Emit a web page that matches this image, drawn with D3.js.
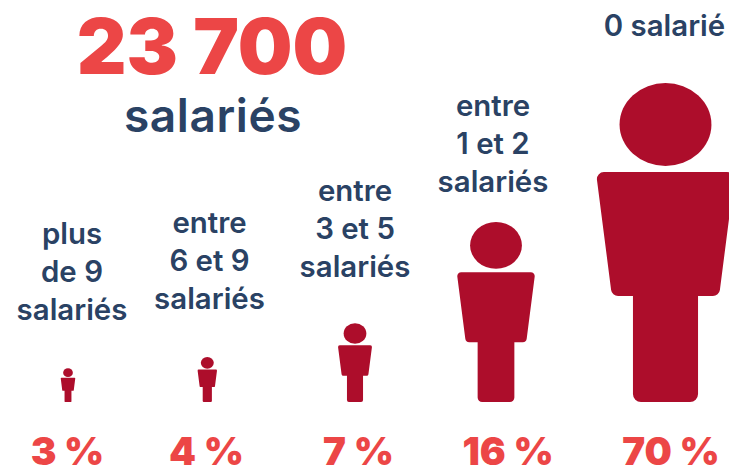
<!DOCTYPE html>
<html><head><meta charset="utf-8">
<script src="https://cdn.jsdelivr.net/npm/d3@7/dist/d3.min.js"></script>
<style>html,body{margin:0;padding:0;background:#fff}svg{display:block}text{font-family:Inter,"Noto Sans",sans-serif;text-anchor:middle}</style>
</head><body><svg id="c" width="729" height="466"></svg>
<script>
const categories = ["plus de 9 salariés","entre 6 et 9 salariés","entre 3 et 5 salariés","entre 1 et 2 salariés","0 salarié"];
const labelLines = [["plus","de 9","salariés"],["entre","6 et 9","salariés"],["entre","3 et 5","salariés"],["entre","1 et 2","salariés"],["0 salarié"]];
const shares = [3,4,7,16,70];
const shareLabels = ["3 %","4 %","7 %","16 %","70 %"];
const totalValue = "23 700";
const totalUnit = "salariés";

const navy="#2a4264", red="#ec4646", crimson="#ad0d2b";
const svg=d3.select("#c");
const cx=d3.scaleLinear().domain([0,1,2,3,4]).range([68,207.3,355,496,665.5]);
const textCx=d3.scaleLinear().domain([0,1,2,3,4]).range([72,209.5,355,493,664.5]);
const pctCx=d3.scaleLinear().domain([0,1,2,3,4]).range([67.5,206.5,358.5,508,671]);
// the biggest figure is not drawn to the same scale in the source
const hScale=d3.scaleLinear().domain([0,16,70]).range([0,180,319]);
const baseY=402;

function figure(k){
  // outline in a unit figure of height 1, centred on x = 0
  const p=d3.path();
  const pts=[[-.218,.279],[.218,.279],[.168,.668],[.102,.668],[.102,1],[-.102,1],[-.102,.668],[-.168,.668]];
  const r=[.022,.022,.022,0,.025,.025,0,.022];
  const n=pts.length;
  p.moveTo(0,pts[0][1]*k);
  for(let i=1;i<=n;i++){
    const a=pts[i%n], b=pts[(i+1)%n];
    p.arcTo(a[0]*k,a[1]*k,b[0]*k,b[1]*k,r[i%n]*k);
  }
  p.closePath();
  return p.toString();
}

const g=svg.selectAll("g.fig").data(shares).join("g").attr("class","fig")
  .attr("transform",(d,i)=>`translate(${cx(i)},${baseY-hScale(d)})`);
g.append("ellipse").attr("fill",crimson)
  .attr("cx",0).attr("rx",d=>hScale(d)*.144).attr("ry",d=>hScale(d)*.13).attr("cy",d=>hScale(d)*.13);
g.append("path").attr("fill",crimson).attr("d",d=>figure(hScale(d)));

const lineStep=38, labelBottom=[320,309,277,192,36];
svg.selectAll("g.lab").data(labelLines).join("g").attr("class","lab").each(function(lines,i){
  d3.select(this).selectAll("text").data(lines).join("text")
    .attr("x",textCx(i)).attr("y",(l,j)=>labelBottom[i]-(lines.length-1-j)*lineStep)
    .attr("font-size",29.4).attr("font-weight",600).attr("fill",navy).text(l=>l);
});
svg.selectAll("text.pct").data(shareLabels).join("text").attr("class","pct")
  .attr("x",(d,i)=>pctCx(i)).attr("y",465).attr("font-size",38.5).attr("font-weight",900).attr("fill",red).text(d=>d);
svg.append("text").attr("x",212).attr("y",74).attr("font-size",77).attr("font-weight",900).attr("fill",red).text(totalValue);
svg.append("text").attr("x",213).attr("y",132).attr("font-size",46).attr("letter-spacing",.6).attr("font-weight",600).attr("fill",navy).text(totalUnit);
</script></body></html>
